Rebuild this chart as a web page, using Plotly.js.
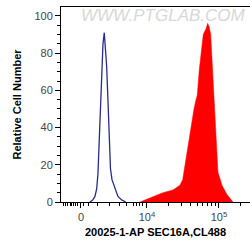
<!DOCTYPE html>
<html>
<head>
<meta charset="utf-8">
<script src="https://cdn.plot.ly/plotly-3.0.1.min.js"></script>
<style>html,body{margin:0;padding:0;background:#fff;}#chart{width:250px;height:249px;}</style>
</head>
<body>
<div id="chart"></div>
<script>
// x values are in display (logicle-like) decade units: 4 = 10^4, 5 = 10^5, 3.083 = 0
const controlX = [3.208,3.246,3.278,3.301,3.319,3.326,3.337,3.354,3.371,3.389,3.407,3.421,3.440,3.458,3.472,3.483,3.493,3.514,3.556,3.597,3.653,3.708];
const controlY = [0,1,3,7,15,22,41,57,73,85,91,85,73,55,41,25,18,12,7,3,1,0];

const sampleX = [3.903,3.972,4.083,4.222,4.361,4.458,4.496,4.528,4.556,4.621,4.653,4.681,4.699,4.726,4.760,4.782,4.806,4.819,4.843,4.865,4.885,4.899,4.913,4.931,4.958,4.986,5.042,5.111,5.194];
const sampleY = [0,1,3,5,6.5,9,12,20,27,41,50,55,57.5,71,84,90,92,93,96,94,90,80,66,50,34,16,9,4,0];

const xTickVals = [3.083, 4, 5];
const xTickText = ['0', '10<sup>4</sup>', '10<sup>5</sup>'];
const xMinorVals = [2.847,2.875,2.903,2.931,2.958,2.986,3.014,3.042,3.125,3.181,3.319,3.486,3.625,3.722,3.806,3.861,3.903,3.944,4.301,4.477,4.602,4.699,4.778,4.845,4.903,4.954,5.301];
const yTickVals = [0,20,40,60,80,100];

const traces = [
  {x: sampleX, y: sampleY, type: 'scatter', mode: 'lines', fill: 'tozeroy',
   fillcolor: '#ff0000', line: {color: '#ff0000', width: 0.5}, hoverinfo: 'skip'},
  {x: controlX, y: controlY, type: 'scatter', mode: 'lines',
   line: {color: '#2b2b8c', width: 1.3}, hoverinfo: 'skip'}
];

const tickFont = {family: 'Liberation Sans, Arial, sans-serif', size: 11, color: '#444'};
const titleFont = {family: 'Liberation Sans, Arial, sans-serif', size: 11, color: '#000', weight: 'bold'};

const layout = {
  width: 250, height: 249,
  margin: {l: 61, r: 0, t: 7, b: 47},
  paper_bgcolor: '#fff', plot_bgcolor: '#fff',
  showlegend: false,
  xaxis: {
    range: [2.806, 5.431], showgrid: false, zeroline: false,
    showline: true, linecolor: '#000', linewidth: 1, mirror: true,
    ticks: 'outside', ticklen: 5, tickcolor: '#000', tickwidth: 1,
    tickmode: 'array', tickvals: xTickVals, ticktext: xTickText,
    tickfont: tickFont,
    minor: {tickmode: 'array', tickvals: xMinorVals, ticks: 'outside', ticklen: 3, tickcolor: '#000', showgrid: false},
    title: {text: '20025-1-AP SEC16A,CL488', font: titleFont, standoff: 6}
  },
  yaxis: {
    range: [0, 104.8], showgrid: false, zeroline: false,
    showline: true, linecolor: '#000', linewidth: 1,
    ticks: 'outside', ticklen: 5, tickcolor: '#000', tickwidth: 1,
    tickmode: 'array', tickvals: yTickVals, tickfont: tickFont,
    minor: {tickmode: 'linear', dtick: 5, tick0: 0, ticks: 'outside', ticklen: 3, tickcolor: '#000', showgrid: false},
    title: {text: 'Relative Cell Number', font: titleFont, standoff: 10}
  },
  annotations: [{
    text: 'WWW.PTGLAB.COM', xref: 'paper', yref: 'paper', x: 0.54, y: 0.955,
    xanchor: 'center', yanchor: 'middle', showarrow: false,
    font: {family: 'Liberation Sans, Arial, sans-serif', size: 17, color: '#d8d8d8', style: 'italic'}
  }]
};

Plotly.newPlot('chart', traces, layout, {staticPlot: true, displayModeBar: false});
</script>
</body>
</html>
